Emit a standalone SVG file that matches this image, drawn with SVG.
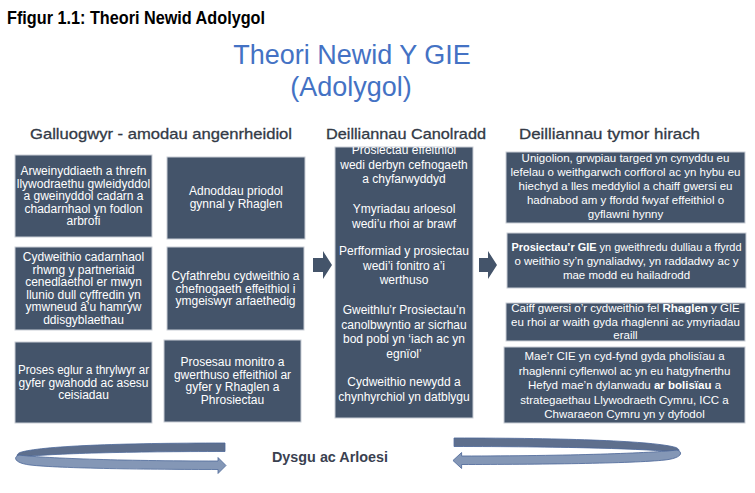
<svg xmlns="http://www.w3.org/2000/svg" width="755" height="493" viewBox="0 0 755 493">
<style>
.box{fill:#44546A;stroke:#c9ced6;stroke-width:1}
.bt{font-family:"Liberation Sans",Arial,sans-serif;font-size:11.5px;fill:#ffffff;text-anchor:middle}
.bl{font-size:12px}
.b{font-weight:bold}
.hdr{font-family:"Liberation Sans",Arial,sans-serif;font-size:15px;fill:#333a46;stroke:#333a46;stroke-width:0.3}
.blk{fill:#44546A}
.back{fill:#5e6f8d;stroke:#4d6899;stroke-width:0.8}
.front{fill:#8497b6;stroke:#4d6899;stroke-width:0.8}
</style>
<defs>
<clipPath id="cm"><rect x="335" y="147" width="138" height="271"/></clipPath>
<g id="loop">
<path class="back" d="M225,443 C120,443 40,446 20,452.5 C15,455 17,457.5 22,457 C50,453.5 130,451.5 225,451.5 Z"/>
<path class="front" d="M218,461 L218,457.5 L226,465.5 L218,473.5 L218,469.5 C150,469.5 60,468.5 30,465 C14,463 13,457 19,455 C40,458 120,461 218,461 Z"/>
</g>
</defs>
<rect width="755" height="493" fill="#ffffff"/>
<text x="7" y="24" font-family="'Liberation Sans',Arial,sans-serif" font-size="18" font-weight="bold" fill="#000" textLength="258" lengthAdjust="spacingAndGlyphs">Ffigur 1.1: Theori Newid Adolygol</text>
<g id="title" font-family="'Liberation Sans',Arial,sans-serif" font-size="27" fill="#4472C4" text-anchor="middle">
<text x="352" y="64">Theori Newid Y GIE</text>
<text x="351" y="96">(Adolygol)</text>
</g>
<g id="headers" class="hdr">
<text x="30" y="139" textLength="262" lengthAdjust="spacingAndGlyphs">Galluogwyr - amodau angenrheidiol</text>
<text x="326" y="139" textLength="160" lengthAdjust="spacingAndGlyphs">Deilliannau Canolradd</text>
<text x="519" y="139" textLength="181" lengthAdjust="spacingAndGlyphs">Deilliannau tymor hirach</text>
</g>
<g id="nA"><rect class="box" x="15" y="155" width="137" height="82"/>
<text class="bt bl"><tspan x="83.5" y="175">Arweinyddiaeth a threfn</tspan><tspan x="83.5" y="187.5">llywodraethu gwleidyddol</tspan><tspan x="83.5" y="200">a gweinyddol cadarn a</tspan><tspan x="83.5" y="212.5">chadarnhaol yn fodlon</tspan><tspan x="83.5" y="225">arbrofi</tspan></text></g>
<g id="nB"><rect class="box" x="167" y="157" width="138" height="82"/>
<text class="bt bl"><tspan x="236" y="195">Adnoddau priodol</tspan><tspan x="236" y="208">gynnal y Rhaglen</tspan></text></g>
<g id="nC"><rect class="box" x="15" y="247" width="137" height="83"/>
<text class="bt bl"><tspan x="83.5" y="261">Cydweithio cadarnhaol</tspan><tspan x="83.5" y="273.5">rhwng y partneriaid</tspan><tspan x="83.5" y="286">cenedlaethol er mwyn</tspan><tspan x="83.5" y="298.5">llunio dull cyffredin yn</tspan><tspan x="83.5" y="311">ymwneud â’u hamryw</tspan><tspan x="83.5" y="323.5">ddisgyblaethau</tspan></text></g>
<g id="nD"><rect class="box" x="167" y="247" width="137" height="83"/>
<text class="bt bl"><tspan x="235.5" y="280">Cyfathrebu cydweithio a</tspan><tspan x="235.5" y="292.5">chefnogaeth effeithiol i</tspan><tspan x="235.5" y="305">ymgeiswyr arfaethedig</tspan></text></g>
<g id="nE"><rect class="box" x="15" y="342" width="137" height="81"/>
<text class="bt bl" x="83.5" y="374" textLength="131" lengthAdjust="spacingAndGlyphs">Proses eglur a thrylwyr ar</text>
<text class="bt bl"><tspan x="83.5" y="386.5">gyfer gwahodd ac asesu</tspan><tspan x="83.5" y="399">ceisiadau</tspan></text></g>
<g id="nF"><rect class="box" x="164" y="340" width="137" height="82"/>
<text class="bt bl"><tspan x="232.5" y="366">Prosesau monitro a</tspan><tspan x="232.5" y="378.5">gwerthuso effeithiol ar</tspan><tspan x="232.5" y="391">gyfer y Rhaglen a</tspan><tspan x="232.5" y="403.5">Phrosiectau</tspan></text></g>
<g id="nM"><rect class="box" x="335" y="147" width="138" height="271"/>
<text class="bt bl" clip-path="url(#cm)"><tspan x="404" y="154">Prosiectau effeithiol</tspan><tspan x="404" y="168.5">wedi derbyn cefnogaeth</tspan><tspan x="404" y="183">a chyfarwyddyd</tspan><tspan x="404" y="213">Ymyriadau arloesol</tspan><tspan x="404" y="227.5">wedi’u rhoi ar brawf</tspan><tspan x="404" y="255">Perfformiad y prosiectau</tspan><tspan x="404" y="269.5">wedi’i fonitro a’i</tspan><tspan x="404" y="284">werthuso</tspan><tspan x="404" y="314">Gweithlu’r Prosiectau’n</tspan><tspan x="404" y="328.5">canolbwyntio ar sicrhau</tspan><tspan x="404" y="343">bod pobl yn ‘iach ac yn</tspan><tspan x="404" y="357.5">egnïol’</tspan><tspan x="404" y="386">Cydweithio newydd a</tspan><tspan x="404" y="400.5">chynhyrchiol yn datblygu</tspan></text></g>
<g id="nR1"><rect class="box" x="506" y="152" width="239" height="71"/>
<text class="bt"><tspan x="625.5" y="162">Unigolion, grwpiau targed yn cynyddu eu</tspan><tspan x="625.5" y="176">lefelau o weithgarwch corfforol ac yn hybu eu</tspan><tspan x="625.5" y="190">hiechyd a lles meddyliol a chaiff gwersi eu</tspan><tspan x="625.5" y="204">hadnabod am y ffordd fwyaf effeithiol o</tspan><tspan x="625.5" y="218">gyflawni hynny</tspan></text></g>
<g id="nR2"><rect class="box" x="507" y="233" width="239" height="55"/>
<text class="bt" x="626.5" y="250.5" textLength="230" lengthAdjust="spacingAndGlyphs"><tspan class="b">Prosiectau’r GIE</tspan> yn gweithredu dulliau a ffyrdd</text>
<text class="bt"><tspan x="626.5" y="264.5">o weithio sy’n gynaliadwy, yn raddadwy ac y</tspan><tspan x="626.5" y="278.5">mae modd eu hailadrodd</tspan></text></g>
<g id="nR3"><rect class="box" x="506" y="303" width="239" height="38"/>
<text class="bt"><tspan x="625.5" y="312">Caiff gwersi o’r cydweithio fel <tspan class="b">Rhaglen</tspan> y GIE</tspan><tspan x="625.5" y="325.5">eu rhoi ar waith gyda rhaglenni ac ymyriadau</tspan><tspan x="625.5" y="339">eraill</tspan></text></g>
<g id="nR4"><rect class="box" x="504" y="347" width="241" height="76"/>
<text class="bt"><tspan x="624.5" y="360">Mae’r CIE yn cyd-fynd gyda pholisïau a</tspan><tspan x="624.5" y="374.5">rhaglenni cyflenwol ac yn eu hatgyfnerthu</tspan><tspan x="624.5" y="389">Hefyd mae’n dylanwadu <tspan class="b">ar bolisïau</tspan> a</tspan><tspan x="624.5" y="403.5">strategaethau Llywodraeth Cymru, ICC a</tspan><tspan x="624.5" y="418">Chwaraeon Cymru yn y dyfodol</tspan></text></g>
<g id="connectors">
<path class="blk" d="M313,258 H323 V251 L332,265 L323,279 V272 H313 Z"/>
<path class="blk" d="M479,258 H488 V251 L497,265 L488,279 V272 H479 Z"/>
<use href="#loop"/>
<use href="#loop" transform="matrix(-1.082 0 0 1 697.5 -5)"/>
</g>
<text id="loopLabel" x="272" y="462" font-family="'Liberation Sans',Arial,sans-serif" font-size="15" font-weight="bold" fill="#3a4150" textLength="116" lengthAdjust="spacingAndGlyphs">Dysgu ac Arloesi</text>
</svg>
